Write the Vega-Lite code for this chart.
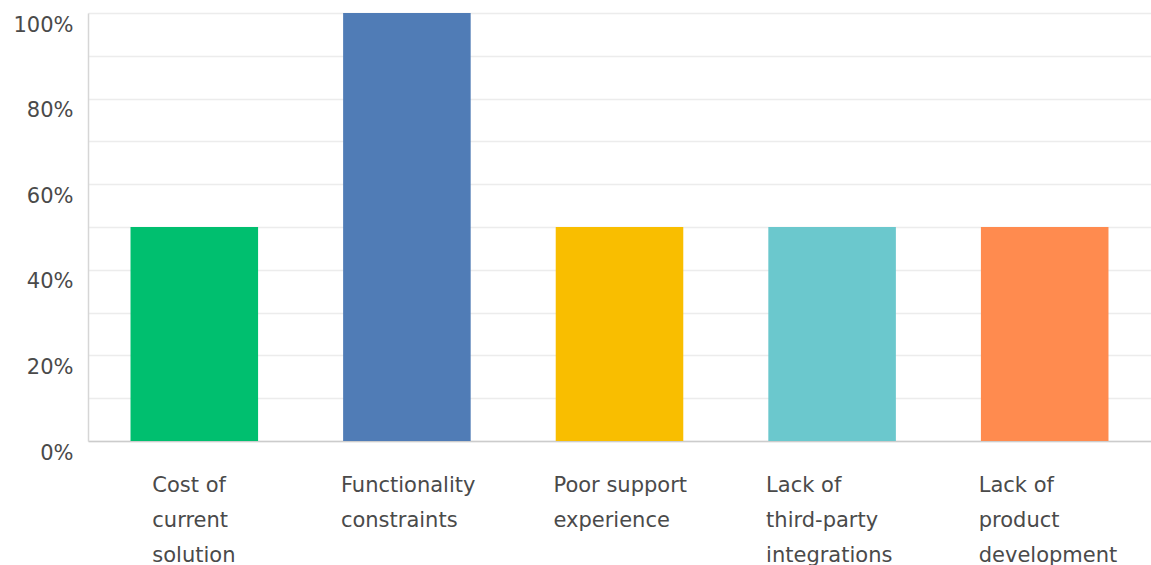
{
  "$schema": "https://vega.github.io/schema/vega-lite/v6.json",
  "autosize": {"type": "none"},
  "width": 1063,
  "height": 428,
  "padding": {"left": 88, "top": 13, "right": 0, "bottom": 124},
  "background": "white",
  "config": {"view": {"stroke": null}},
  "data": {
    "values": [
      {"category": "Cost of current solution", "percent": 50},
      {"category": "Functionality constraints", "percent": 100},
      {"category": "Poor support experience", "percent": 50},
      {"category": "Lack of third-party integrations", "percent": 50},
      {"category": "Lack of product development", "percent": 50}
    ]
  },
  "mark": {"type": "bar"},
  "encoding": {
    "x": {
      "field": "category",
      "type": "nominal",
      "sort": null,
      "scale": {"paddingInner": 0.4, "paddingOuter": 0.2},
      "axis": {
        "title": null,
        "labelAngle": 0,
        "ticks": false,
        "domainColor": "#cccccc",
        "domainWidth": 1.5,
        "labelFont": "DejaVu Sans",
        "labelFontSize": 21,
        "labelColor": "#4a4a4a",
        "labelAlign": "left",
        "labelBaseline": "top",
        "labelLineHeight": 35,
        "labelPadding": 33,
        "labelLimit": 300,
        "labelOffset": {"condition": {"test": "datum.value == 'Cost of current solution'", "value": -42}, "value": -66},
        "labelExpr": "datum.value == 'Cost of current solution' ? ['Cost of', 'current', 'solution'] : datum.value == 'Functionality constraints' ? ['Functionality', 'constraints'] : datum.value == 'Poor support experience' ? ['Poor support', 'experience'] : datum.value == 'Lack of third-party integrations' ? ['Lack of', 'third-party', 'integrations'] : ['Lack of', 'product', 'development']"
      }
    },
    "y": {
      "field": "percent",
      "type": "quantitative",
      "scale": {"domain": [0, 100], "nice": false},
      "axis": {
        "title": null,
        "values": [0, 10, 20, 30, 40, 50, 60, 70, 80, 90, 100],
        "labelExpr": "datum.value % 20 == 0 ? datum.value + '%' : ''",
        "ticks": false,
        "grid": true,
        "gridColor": "#ececec",
        "gridWidth": 1.5,
        "domainColor": "#d6d6d6",
        "domainWidth": 1.5,
        "labelFont": "DejaVu Sans",
        "labelFontSize": 21,
        "labelColor": "#4a4a4a",
        "labelPadding": 15,
        "labelBaseline": "middle",
        "labelOffset": 12,
        "labelFlush": false,
        "labelOverlap": false
      }
    },
    "color": {
      "field": "category",
      "type": "nominal",
      "sort": null,
      "scale": {
        "domain": ["Cost of current solution", "Functionality constraints", "Poor support experience", "Lack of third-party integrations", "Lack of product development"],
        "range": ["#00bf6f", "#507cb6", "#f9be00", "#6bc8cd", "#ff8b4f"]
      },
      "legend": null
    }
  }
}
